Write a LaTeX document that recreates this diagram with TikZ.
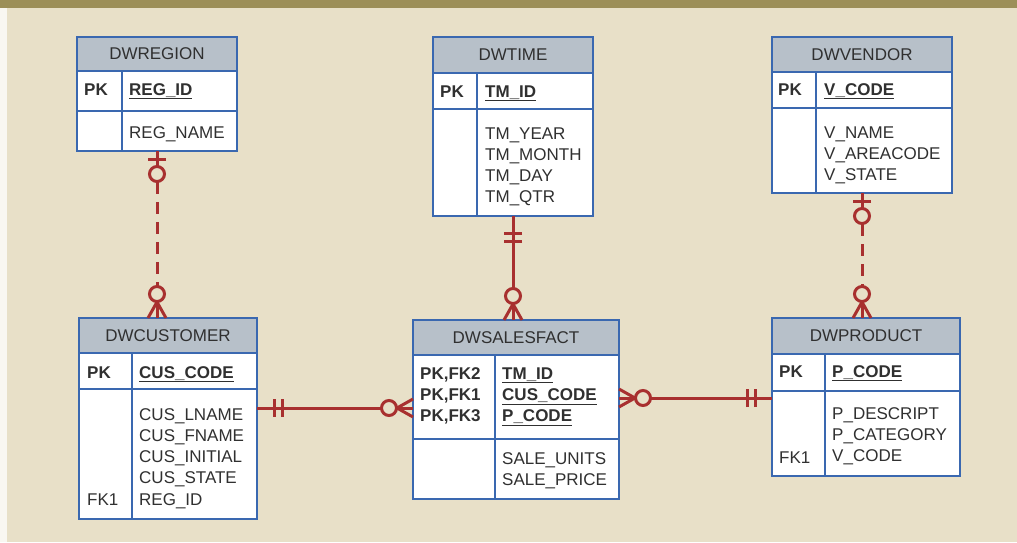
\documentclass[tikz,border=0pt]{standalone}
\usepackage{fontspec}
\setmainfont{Liberation Sans}
\usetikzlibrary{positioning,calc}
\definecolor{erdblue}{HTML}{3A68B0}
\definecolor{erdhead}{HTML}{B7C0C9}
\definecolor{erdred}{HTML}{A8302F}
\definecolor{erdbg}{HTML}{E8E0C8}
\definecolor{erdband}{HTML}{9C8F58}
\definecolor{erdtext}{HTML}{303030}
\tikzset{
    every node/.style={font=\fontsize{17}{21.3}\selectfont,text=erdtext},
    tablebox/.style={draw=erdblue,line width=2pt,fill=white,anchor=north west,inner sep=0pt,outer sep=0pt},
    headbox/.style={draw=erdblue,line width=2pt,fill=erdhead,anchor=north west,inner sep=0pt,outer sep=0pt,minimum height=35pt},
    tableline/.style={draw=erdblue,line width=2pt},
    cell/.style={anchor=base west,inner sep=0pt},
    keycell/.style={cell,font=\fontsize{17}{21.3}\selectfont\bfseries},
    relline/.style={draw=erdred,line width=3pt},
    dashrel/.style={dash pattern=on 12pt off 8pt},
    pics/zeroone/.style={code={
        \draw[relline] (0,0) -- (31,0);
        \draw[relline] (8,-9) -- (8,9);
        \draw[relline,fill=erdbg] (23,0) circle[radius=7.5pt];
    }},
    pics/zeromany/.style={code={
        \draw[relline] (0,0) -- (33,0);
        \draw[relline] (0,-9) -- (16,0) -- (0,9);
        \draw[relline,fill=erdbg] (24,0) circle[radius=7.5pt];
    }},
    pics/mandone/.style={code={
        \draw[relline] (17,-9) -- (17,9);
        \draw[relline] (25,-9) -- (25,9);
    }}
}

\begin{document}
\begin{tikzpicture}[x=1pt,y=-1pt]
\useasboundingbox (0,0) rectangle (1017,542);
\fill[erdbg] (0,0) rectangle (1017,542);
\fill[white!75!erdbg] (0,0) rectangle (7,542);
\fill[erdband] (0,0) rectangle (1017,8);

% DWREGION
\node[tablebox,minimum width=160pt,minimum height=114pt] (region) at (77,37) {};
\node[headbox,minimum width=160pt,minimum height=34pt] (region-h) at (region.north west) {DWREGION};
\draw[tableline] (77,111) -- (237,111);
\draw[tableline] (122,71) -- (122,151);
\node[keycell] (region-pk) at (84,95) {PK};
\node[keycell] (region-id) at (129,95) {\underline{REG\_ID}};
\node[cell] (region-a0) at (129,138) {REG\_NAME};

% DWTIME
\node[tablebox,minimum width=160pt,minimum height=179pt] (time) at (433,37) {};
\node[headbox,minimum width=160pt,minimum height=36pt] (time-h) at (time.north west) {DWTIME};
\draw[tableline] (433,109) -- (593,109);
\draw[tableline] (477,73) -- (477,216);
\node[keycell] (time-pk) at (440,97) {PK};
\node[keycell] (time-id) at (485,97) {\underline{TM\_ID}};
\foreach \i/\txt in {0/TM\_YEAR,1/TM\_MONTH,2/TM\_DAY,3/TM\_QTR}{
    \node[cell] (time-a\i) at (485,139+21.3*\i) {\txt};
}

% DWVENDOR
\node[tablebox,minimum width=180pt,minimum height=156pt] (vendor) at (772,37) {};
\node[headbox,minimum width=180pt] (vendor-h) at (vendor.north west) {DWVENDOR};
\draw[tableline] (772,108) -- (952,108);
\draw[tableline] (816,72) -- (816,193);
\node[keycell] (vendor-pk) at (778,95) {PK};
\node[keycell] (vendor-id) at (824,95) {\underline{V\_CODE}};
\foreach \i/\txt in {0/V\_NAME,1/V\_AREACODE,2/V\_STATE}{
    \node[cell] (vendor-a\i) at (824,138+21.3*\i) {\txt};
}

% DWCUSTOMER
\node[tablebox,minimum width=178pt,minimum height=201pt] (customer) at (79,318) {};
\node[headbox,minimum width=178pt] (customer-h) at (customer.north west) {DWCUSTOMER};
\draw[tableline] (79,389) -- (257,389);
\draw[tableline] (132,353) -- (132,519);
\node[keycell] (customer-pk) at (87,378) {PK};
\node[keycell] (customer-id) at (139,378) {\underline{CUS\_CODE}};
\foreach \i/\txt in {0/CUS\_LNAME,1/CUS\_FNAME,2/CUS\_INITIAL,3/CUS\_STATE,4/REG\_ID}{
    \node[cell] (customer-a\i) at (139,420+21.3*\i) {\txt};
}
\node[cell] (customer-fk) at (87,505) {FK1};

% DWSALESFACT
\node[tablebox,minimum width=206pt,minimum height=179pt] (sales) at (413,320) {};
\node[headbox,minimum width=206pt] (sales-h) at (sales.north west) {DWSALESFACT};
\draw[tableline] (413,439) -- (619,439);
\draw[tableline] (495,355) -- (495,499);
\foreach \i/\key/\txt in {0/PK{,}FK2/TM\_ID,1/PK{,}FK1/CUS\_CODE,2/PK{,}FK3/P\_CODE}{
    \node[keycell] (sales-k\i) at (420,379+21.3*\i) {\key};
    \node[keycell] (sales-id\i) at (502,379+21.3*\i) {\underline{\txt}};
}
\foreach \i/\txt in {0/SALE\_UNITS,1/SALE\_PRICE}{
    \node[cell] (sales-a\i) at (502,464+21.3*\i) {\txt};
}

% DWPRODUCT
\node[tablebox,minimum width=188pt,minimum height=158pt] (product) at (772,318) {};
\node[headbox,minimum width=188pt,minimum height=36pt] (product-h) at (product.north west) {DWPRODUCT};
\draw[tableline] (772,391) -- (960,391);
\draw[tableline] (825,354) -- (825,476);
\node[keycell] (product-pk) at (779,377) {PK};
\node[keycell] (product-id) at (832,377) {\underline{P\_CODE}};
\foreach \i/\txt in {0/P\_DESCRIPT,1/P\_CATEGORY,2/V\_CODE}{
    \node[cell] (product-a\i) at (832,419+21.3*\i) {\txt};
}
\node[cell] (product-fk) at (779,463) {FK1};

% relationships
\draw[relline,dashrel] ($(region.south)+(0,31)$) -- ($(region.south |- customer.north)+(0,-33)$);
\pic[rotate=-90] at (region.south) {zeroone};
\pic[rotate=90] at (region.south |- customer.north) {zeromany};

\draw[relline] (time.south) -- (time.south |- sales.north);
\pic[rotate=-90] at (time.south) {mandone};
\pic[rotate=90] at (time.south |- sales.north) {zeromany};

\draw[relline,dashrel] ($(vendor.south)+(0,31)$) -- ($(vendor.south |- product.north)+(0,-33)$);
\pic[rotate=-90] at (vendor.south) {zeroone};
\pic[rotate=90] at (vendor.south |- product.north) {zeromany};

\coordinate (cus-link) at ($(customer.north east)+(0,90)$);
\draw[relline] (cus-link) -- (cus-link -| sales.west);
\pic at (cus-link) {mandone};
\pic[rotate=180] at (cus-link -| sales.west) {zeromany};

\coordinate (sales-link) at ($(sales.north east)+(0,78)$);
\draw[relline] (sales-link) -- (sales-link -| product.west);
\pic at (sales-link) {zeromany};
\pic[rotate=180] at (sales-link -| product.west) {mandone};
\end{tikzpicture}
\end{document}
